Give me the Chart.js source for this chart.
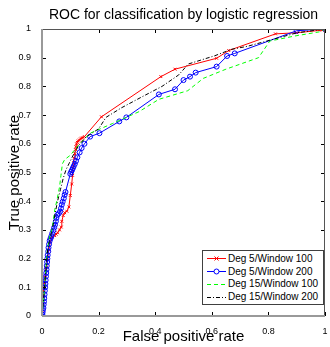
<!DOCTYPE html>
<html lang="en">
<head>
  <meta charset="UTF-8" />
  <title>ROC</title>
  <script src="https://cdn.jsdelivr.net/npm/chart.js"></script>
  <style>
    body {
      margin: 0;
      background: #fff;
      font-family: "Liberation Sans", Arial, sans-serif;
    }
    #wrap {
      position: relative;
      width: 330px;
      height: 347px;
    }
    .legend {
      position: absolute;
      left: 202px;
      top: 250px;
      width: 122px;
      height: 55px;
      box-sizing: border-box;
      border: 1px solid #404040;
      background: #fff;
      padding-top: 1px;
    }
    .legend .row {
      height: 12.8px;
      display: flex;
      align-items: center;
      font-size: 10px;
      color: #000;
      white-space: nowrap;
    }
    .legend svg {
      width: 25px;
      height: 12px;
      flex: none;
    }
  </style>
</head>
<body>
  <div id="wrap">
    <canvas id="roc" width="330" height="347"></canvas>
    <div class="legend">
      <div class="row">
        <svg viewBox="0 0 25 12"><line x1="4" y1="6.5" x2="23" y2="6.5" stroke="#ff0000" stroke-width="1"/><path d="M11.5 4.5 L15.5 8.5 M15.5 4.5 L11.5 8.5" stroke="#ff0000" stroke-width="1"/></svg>
        <span>Deg 5/Window 100</span>
      </div>
      <div class="row">
        <svg viewBox="0 0 25 12"><line x1="4" y1="6.5" x2="23" y2="6.5" stroke="#0000ff" stroke-width="1"/><circle cx="13.5" cy="6.5" r="2.5" fill="#fff" stroke="#0000ff" stroke-width="1"/></svg>
        <span>Deg 5/Window 200</span>
      </div>
      <div class="row">
        <svg viewBox="0 0 25 12"><line x1="4" y1="6.5" x2="23" y2="6.5" stroke="#00ff00" stroke-width="1" stroke-dasharray="4,3"/></svg>
        <span>Deg 15/Window 100</span>
      </div>
      <div class="row">
        <svg viewBox="0 0 25 12"><line x1="4" y1="6.5" x2="23" y2="6.5" stroke="#000" stroke-width="1" stroke-dasharray="4,2,1,2"/></svg>
        <span>Deg 15/Window 200</span>
      </div>
    </div>
  </div>

  <script>
    // tick values and labels
    const xTickValues = [0, 0.2, 0.4, 0.6, 0.8, 1];
    const xTickLabels = ['0', '0.2', '0.4', '0.6', '0.8', '1'];
    const yTickValues = [0, 0.1, 0.2, 0.3, 0.4, 0.5, 0.6, 0.7, 0.8, 0.9, 1];
    const yTickLabels = ['0', '0.1', '0.2', '0.3', '0.4', '0.5', '0.6', '0.7', '0.8', '0.9', '1'];

    // Deg 5/Window 100
    const redFpr = [0, 0, 0.003, 0.005, 0.008, 0.012, 0.016, 0.02, 0.024, 0.03, 0.036, 0.045, 0.05, 0.055, 0.062, 0.068,
      0.07, 0.075, 0.08, 0.088, 0.095, 0.1, 0.105, 0.108, 0.11, 0.112, 0.114, 0.116, 0.118, 0.12, 0.122, 0.125,
      0.128, 0.132, 0.136, 0.14, 0.145, 0.15, 0.21, 0.42, 0.47, 0.617, 0.66, 0.825, 0.9, 0.99, 1];
    const redTpr = [0, 0.02, 0.05, 0.09, 0.11, 0.14, 0.17, 0.2, 0.23, 0.26, 0.275, 0.28, 0.285, 0.29, 0.3, 0.31,
      0.33, 0.35, 0.36, 0.365, 0.38, 0.42, 0.46, 0.49, 0.52, 0.535, 0.55, 0.565, 0.58, 0.59, 0.6, 0.605,
      0.61, 0.613, 0.617, 0.62, 0.622, 0.625, 0.694, 0.834, 0.86, 0.898, 0.925, 0.983, 0.987, 0.996, 1];

    // Deg 5/Window 200
    const blueFpr = [0, 0.001, 0.002, 0.003, 0.005, 0.006, 0.007, 0.008, 0.009, 0.01, 0.011, 0.012, 0.013, 0.014,
      0.015, 0.016, 0.017, 0.018, 0.019, 0.02, 0.022, 0.023, 0.025, 0.027, 0.03, 0.033, 0.036, 0.04, 0.043, 0.046,
      0.049, 0.051, 0.054, 0.059, 0.064, 0.067, 0.07, 0.073, 0.077, 0.08, 0.083, 0.1, 0.103, 0.106, 0.109, 0.112,
      0.116, 0.12, 0.125, 0.133, 0.14, 0.15, 0.17, 0.203, 0.273, 0.298, 0.413, 0.47, 0.5, 0.523, 0.543,
      0.617, 0.654, 0.681, 0.9, 1];
    const blueTpr = [0, 0.005, 0.012, 0.02, 0.028, 0.04, 0.05, 0.062, 0.075, 0.088, 0.1, 0.112, 0.125, 0.138,
      0.15, 0.162, 0.175, 0.188, 0.2, 0.212, 0.225, 0.238, 0.25, 0.262, 0.27, 0.278, 0.288, 0.298, 0.308, 0.318,
      0.33, 0.342, 0.352, 0.357, 0.364, 0.375, 0.388, 0.398, 0.41, 0.422, 0.432, 0.495, 0.502, 0.508, 0.515, 0.522,
      0.53, 0.54, 0.553, 0.57, 0.585, 0.6, 0.625, 0.637, 0.678, 0.692, 0.772, 0.79, 0.822, 0.834, 0.848,
      0.869, 0.906, 0.915, 0.994, 1];

    // Deg 15/Window 100
    const greenFpr = [0, 0.003, 0.006, 0.009, 0.012, 0.015, 0.018, 0.022, 0.028, 0.035, 0.04, 0.045, 0.052, 0.062,
      0.067, 0.072, 0.08, 0.1, 0.12, 0.168, 0.25, 0.343, 0.413, 0.515, 0.57, 0.65, 0.765, 0.805, 0.89, 0.98, 1];
    const greenTpr = [0, 0.03, 0.06, 0.1, 0.14, 0.18, 0.22, 0.25, 0.28, 0.3, 0.33, 0.37, 0.4, 0.45,
      0.49, 0.53, 0.545, 0.56, 0.585, 0.636, 0.671, 0.712, 0.755, 0.785, 0.828, 0.86, 0.9, 0.958, 0.975, 0.99, 1];

    // Deg 15/Window 200
    const blackFpr = [0, 0.004, 0.008, 0.012, 0.016, 0.02, 0.026, 0.033, 0.04, 0.047, 0.055, 0.065, 0.075, 0.085,
      0.095, 0.11, 0.13, 0.156, 0.2, 0.226, 0.28, 0.354, 0.424, 0.483, 0.517, 0.611, 0.669, 0.727, 0.82, 0.902, 1];
    const blackTpr = [0, 0.04, 0.09, 0.14, 0.19, 0.23, 0.26, 0.29, 0.32, 0.36, 0.4, 0.44, 0.48, 0.51,
      0.53, 0.56, 0.595, 0.624, 0.652, 0.692, 0.725, 0.764, 0.8, 0.84, 0.878, 0.907, 0.929, 0.94, 0.965, 0.987, 1];

    const FONT = '"Liberation Sans", Arial, sans-serif';

    function pts(xs, ys) {
      return xs.map((x, i) => ({ x: x, y: ys[i] }));
    }

    // axes box with inward ticks on all four sides
    const axisBox = {
      id: 'axisBox',
      afterDatasetsDraw(chart) {
        const { ctx, chartArea: a, scales: { x, y } } = chart;
        const L = 4;
        ctx.save();
        ctx.lineWidth = 1;
        ctx.strokeStyle = '#000';
        ctx.beginPath();
        x.ticks.forEach(t => {
          const px = Math.round(x.getPixelForValue(t.value)) + 0.5;
          ctx.moveTo(px, a.bottom); ctx.lineTo(px, a.bottom - L);
          ctx.moveTo(px, a.top); ctx.lineTo(px, a.top + L);
        });
        y.ticks.forEach(t => {
          const py = Math.round(y.getPixelForValue(t.value)) + 0.5;
          ctx.moveTo(a.left, py); ctx.lineTo(a.left + L, py);
          ctx.moveTo(a.right, py); ctx.lineTo(a.right - L, py);
        });
        ctx.stroke();
        // top and right edges
        ctx.strokeStyle = '#555';
        ctx.beginPath();
        ctx.moveTo(a.left, a.top + 0.5); ctx.lineTo(a.right, a.top + 0.5);
        ctx.moveTo(a.right - 0.5, a.top); ctx.lineTo(a.right - 0.5, a.bottom);
        ctx.stroke();
        // left and bottom edges
        ctx.strokeStyle = '#999';
        ctx.lineWidth = 2;
        ctx.beginPath();
        ctx.moveTo(a.left, a.top); ctx.lineTo(a.left, a.bottom);
        ctx.moveTo(a.left, a.bottom); ctx.lineTo(a.right, a.bottom);
        ctx.stroke();
        ctx.restore();
      }
    };

    const ctx = document.getElementById('roc').getContext('2d');
    new Chart(ctx, {
      type: 'scatter',
      data: {
        datasets: [
          {
            label: 'Deg 5/Window 100',
            data: pts(redFpr, redTpr),
            showLine: true,
            order: 4,
            borderColor: '#ff0000',
            backgroundColor: '#ff0000',
            borderWidth: 1,
            pointStyle: 'crossRot',
            pointRadius: 2,
            pointBorderWidth: 1
          },
          {
            label: 'Deg 5/Window 200',
            data: pts(blueFpr, blueTpr),
            showLine: true,
            order: 3,
            borderColor: '#0000ff',
            backgroundColor: 'rgba(0,0,0,0)',
            borderWidth: 1,
            pointStyle: 'circle',
            pointRadius: 2.5,
            pointBorderWidth: 1
          },
          {
            label: 'Deg 15/Window 100',
            data: pts(greenFpr, greenTpr),
            showLine: true,
            order: 2,
            borderColor: '#00ff00',
            borderWidth: 1,
            borderDash: [4, 3],
            pointRadius: 0
          },
          {
            label: 'Deg 15/Window 200',
            data: pts(blackFpr, blackTpr),
            showLine: true,
            order: 1,
            borderColor: '#000000',
            borderWidth: 1,
            borderDash: [4, 2, 1, 2],
            pointRadius: 0
          }
        ]
      },
      options: {
        responsive: false,
        animation: false,
        layout: { padding: { top: 0, right: 2, left: 0, bottom: 0 } },
        plugins: {
          legend: { display: false },
          tooltip: { enabled: false },
          title: {
            display: true,
            fullSize: false,
            text: 'ROC for classification by logistic regression',
            color: '#000',
            font: { family: FONT, size: 14, weight: 'normal', lineHeight: 1.2 },
            padding: { top: 7, bottom: 5.2 }
          }
        },
        scales: {
          x: {
            type: 'linear',
            min: 0,
            max: 1,
            afterFit(scale) { scale.height = 31; },
            afterBuildTicks(scale) { scale.ticks = xTickValues.map(v => ({ value: v })); },
            grid: { display: false },
            border: { display: false },
            ticks: {
              padding: 2,
              maxRotation: 0,
              autoSkip: false,
              color: '#000',
              font: { family: FONT, size: 9 },
              callback: (v, i) => xTickLabels[i]
            },
            title: {
              display: true,
              text: 'False positive rate',
              color: '#000',
              font: { family: FONT, size: 15, lineHeight: 1.2 },
              padding: { top: 0, bottom: 1 }
            }
          },
          y: {
            type: 'linear',
            min: 0,
            max: 1,
            afterFit(scale) { scale.width = 42; },
            afterBuildTicks(scale) { scale.ticks = yTickValues.map(v => ({ value: v })); },
            grid: { display: false },
            border: { display: false },
            ticks: {
              padding: 3,
              autoSkip: false,
              color: '#000',
              font: { family: FONT, size: 9 },
              callback: (v, i) => yTickLabels[i]
            },
            title: {
              display: true,
              text: 'True positive rate',
              color: '#000',
              font: { family: FONT, size: 15, lineHeight: 1.2 },
              padding: { top: 6, bottom: 0 }
            }
          }
        }
      },
      plugins: [axisBox]
    });
  </script>
</body>
</html>
